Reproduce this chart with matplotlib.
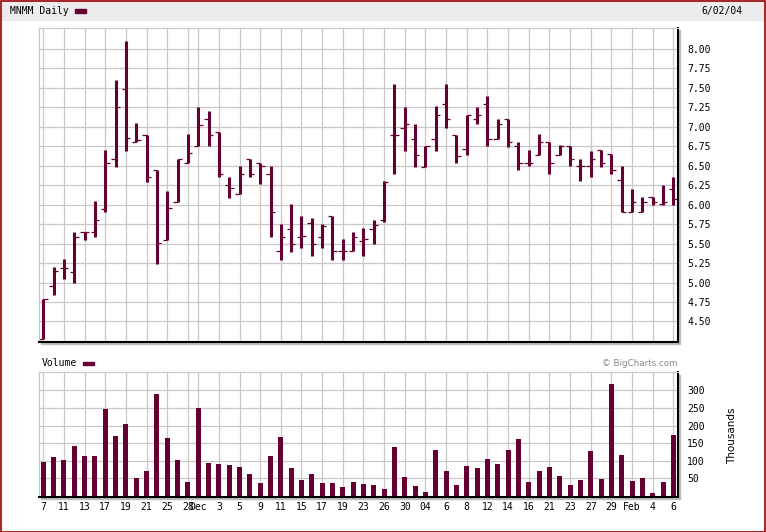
import matplotlib
matplotlib.use('Agg')
import matplotlib.pyplot as plt
import numpy as np
from matplotlib.patches import Rectangle

# MNMM daily bars, Nov 7 2003 - Feb 6 2004 (one entry per trading day)
opens = [4.28, 4.95, 5.19, 5.14, 5.65, 5.65, 5.95, 6.59, 7.49, 6.80,
         6.89, 6.45, 5.55, 6.04, 6.54, 6.76, 7.10, 6.94, 6.25, 6.14,
         6.59, 6.54, 6.40, 5.40, 5.69, 5.59, 5.77, 5.59, 5.85, 5.40,
         5.40, 5.53, 5.69, 5.80, 6.90, 6.99, 6.85, 6.49, 6.85, 7.30,
         6.90, 6.72, 7.10, 7.30, 6.85, 7.10, 6.75, 6.54, 6.64, 6.81,
         6.64, 6.75, 6.50, 6.50, 6.70, 6.65, 6.32, 5.90, 5.90, 6.10,
         6.01, 6.20]
highs = [4.79, 5.20, 5.30, 5.65, 5.65, 6.05, 6.70, 7.60, 8.10, 7.05,
         6.90, 6.45, 6.18, 6.59, 6.91, 7.25, 7.20, 6.94, 6.35, 6.50,
         6.59, 6.54, 6.50, 5.75, 6.01, 5.85, 5.83, 5.75, 5.85, 5.56,
         5.65, 5.70, 5.80, 6.30, 7.55, 7.25, 7.04, 6.75, 7.27, 7.55,
         6.90, 7.15, 7.25, 7.40, 7.10, 7.10, 6.80, 6.70, 6.91, 6.81,
         6.77, 6.75, 6.59, 6.69, 6.70, 6.65, 6.50, 6.20, 6.10, 6.10,
         6.25, 6.35]
lows = [4.28, 4.84, 5.05, 4.99, 5.55, 5.58, 5.90, 6.49, 6.69, 6.80,
        6.29, 5.24, 5.55, 6.04, 6.54, 6.75, 6.75, 6.35, 6.09, 6.14,
        6.35, 6.27, 5.58, 5.29, 5.39, 5.44, 5.34, 5.44, 5.29, 5.29,
        5.40, 5.34, 5.50, 5.78, 6.40, 6.69, 6.49, 6.49, 6.69, 6.99,
        6.54, 6.64, 7.04, 6.75, 6.85, 6.74, 6.45, 6.50, 6.64, 6.40,
        6.64, 6.50, 6.31, 6.35, 6.49, 6.40, 5.90, 5.90, 5.90, 6.00,
        6.00, 6.00]
closes = [4.79, 5.15, 5.19, 5.59, 5.65, 5.80, 6.54, 7.25, 6.86, 6.83,
          6.35, 5.51, 5.96, 6.59, 6.66, 7.02, 6.90, 6.40, 6.21, 6.40,
          6.40, 6.50, 5.90, 5.59, 5.50, 5.60, 5.50, 5.72, 5.40, 5.40,
          5.58, 5.56, 5.74, 6.29, 6.90, 7.04, 6.64, 6.75, 7.15, 7.10,
          6.63, 7.15, 7.15, 6.85, 7.04, 6.80, 6.54, 6.54, 6.81, 6.54,
          6.75, 6.59, 6.50, 6.59, 6.54, 6.45, 5.90, 6.04, 6.04, 6.04,
          6.04, 6.07]
# volume in thousands
volumes = [96, 111, 102, 142, 114, 114, 247, 170, 204, 51,
           71, 290, 165, 102, 40, 250, 94, 91, 88, 82,
           62, 37, 114, 167, 79, 45, 62, 37, 37, 25,
           40, 34, 31, 20, 139, 54, 28, 11, 131, 71,
           31, 85, 79, 105, 91, 131, 162, 40, 71, 82,
           57, 31, 45, 128, 48, 318, 116, 42, 51, 8,
           40, 173]

# labelled trading days (index into the series above)
tick_days = [0, 2, 4, 6, 8, 10, 12, 14, 15, 17, 19, 21, 23, 25, 27, 29,
             31, 33, 35, 37, 39, 41, 43, 45, 47, 49, 51, 53, 55, 57, 59, 61]
tick_labels = ['7', '11', '13', '17', '19', '21', '25', '28', 'Dec', '3',
               '5', '9', '11', '15', '17', '19', '23', '26', '30', '04',
               '6', '8', '12', '14', '16', '21', '23', '27', '29', 'Feb',
               '4', '6']
price_ticks = [4.50, 4.75, 5.00, 5.25, 5.50, 5.75, 6.00, 6.25, 6.50,
               6.75, 7.00, 7.25, 7.50, 7.75, 8.00]
volume_ticks = [50, 100, 150, 200, 250, 300]

bar_color = '#660033'
grid_color = '#c8c8c8'
plt.rcParams['font.family'] = 'DejaVu Sans Mono'
plt.rcParams['font.size'] = 7

W, H = 766, 532
fig = plt.figure(figsize=(W / 100, H / 100), dpi=100)


def px_rect(left, top, right, bottom):
    # pixel box (from top-left) -> figure fraction rect
    return [left / W, 1 - bottom / H, (right - left) / W, (bottom - top) / H]


def style_axes(ax):
    ax.set_xlim(-0.46, 61.45)
    ax.set_xticks(tick_days)
    ax.grid(True, color=grid_color, lw=0.9)
    ax.set_axisbelow(True)
    ax.yaxis.tick_right()
    ax.tick_params(axis='both', length=0)
    ax.tick_params(axis='y', pad=6.5)
    for side in ['left', 'top']:
        ax.spines[side].set_color(grid_color)
        ax.spines[side].set_linewidth(0.9)
    for side in ['right', 'bottom']:
        ax.spines[side].set_color('black')
        ax.spines[side].set_linewidth(1.5)


days = np.arange(len(opens))

# price panel
price_box = (38.5, 28, 678, 341.7)
vol_box = (38.5, 372.3, 678, 496.7)
for left, top, right, bottom in [price_box, vol_box]:
    # drop shadow behind the panels
    fig.patches.append(Rectangle(((left + 2) / W, 1 - (bottom + 2.5) / H),
                                 (right - left) / W, (bottom - top) / H,
                                 transform=fig.transFigure, color='#bdbdbd',
                                 zorder=-1))

ax = fig.add_axes(px_rect(*price_box))
style_axes(ax)
ax.vlines(days, lows, highs, color=bar_color, lw=2.2)
ax.hlines(opens, days - 0.42, days, color=bar_color, lw=0.9)
ax.hlines(closes, days, days + 0.42, color=bar_color, lw=0.9)
ax.set_ylim(4.24, 8.27)
ax.set_yticks(price_ticks)
ax.set_yticklabels(['%.2f' % t for t in price_ticks])
ax.tick_params(axis='x', labelbottom=False)

# volume panel
ax2 = fig.add_axes(px_rect(*vol_box))
style_axes(ax2)
ax2.bar(days, volumes, width=0.48, color=bar_color)
ax2.set_ylim(-2, 351)
ax2.set_yticks(volume_ticks)
ax2.set_xticklabels(tick_labels)
ax2.tick_params(axis='x', pad=4)

# header band and outer frame
fig.patches.append(Rectangle((2 / W, 1 - 20 / H), 762 / W, 19 / H,
                             transform=fig.transFigure, color='#ececec', zorder=-2))
fig.patches.append(Rectangle((0.5 / W, 0.5 / H), (W - 1.5) / W, (H - 1.5) / H,
                             transform=fig.transFigure, fill=False,
                             edgecolor='#990000', lw=1.2, zorder=5))
fig.text(10 / W, 1 - 11 / H, 'MNMM Daily', va='center')
fig.patches.append(Rectangle((75 / W, 1 - 12.6 / H), 11 / W, 3.4 / H,
                             transform=fig.transFigure, color=bar_color))
fig.text(742 / W, 1 - 11 / H, '6/02/04', ha='right', va='center')

fig.text(41.7 / W, 1 - 363.3 / H, 'Volume', va='center')
fig.patches.append(Rectangle((83.3 / W, 1 - 365 / H), 10.7 / W, 3.2 / H,
                             transform=fig.transFigure, color=bar_color))
fig.text(677 / W, 1 - 363.3 / H, '\u00a9 BigCharts.com', ha='right', va='center',
         color='#8a8a8a', family='DejaVu Sans', fontsize=6.3)
fig.text(731.7 / W, 1 - 435.7 / H, 'Thousands', rotation=90, ha='center',
         va='center', family='DejaVu Sans', fontsize=7.5)

fig.savefig('out.png', dpi=100)
